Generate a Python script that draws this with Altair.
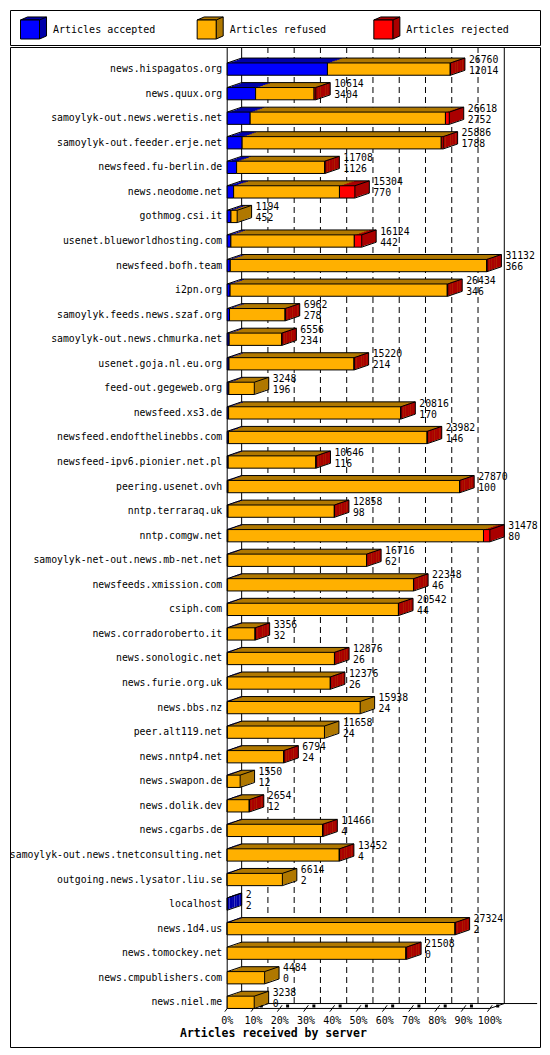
import altair as alt
import pandas as pd

hosts = [
    "news.hispagatos.org", "news.quux.org", "samoylyk-out.news.weretis.net",
    "samoylyk-out.feeder.erje.net", "newsfeed.fu-berlin.de", "news.neodome.net",
    "gothmog.csi.it", "usenet.blueworldhosting.com", "newsfeed.bofh.team",
    "i2pn.org", "samoylyk.feeds.news.szaf.org", "samoylyk-out.news.chmurka.net",
    "usenet.goja.nl.eu.org", "feed-out.gegeweb.org", "newsfeed.xs3.de",
    "newsfeed.endofthelinebbs.com", "newsfeed-ipv6.pionier.net.pl",
    "peering.usenet.ovh", "nntp.terraraq.uk", "nntp.comgw.net",
    "samoylyk-net-out.news.mb-net.net", "newsfeeds.xmission.com", "csiph.com",
    "news.corradoroberto.it", "news.sonologic.net", "news.furie.org.uk",
    "news.bbs.nz", "peer.alt119.net", "news.nntp4.net", "news.swapon.de",
    "news.dolik.dev", "news.cgarbs.de", "samoylyk-out.news.tnetconsulting.net",
    "outgoing.news.lysator.liu.se", "localhost", "news.1d4.us",
    "news.tomockey.net", "news.cmpublishers.com", "news.niel.me",
]
total = [
    26760, 10614, 26618, 25886, 11708, 15304, 1194, 16124, 31132, 26434,
    6962, 6556, 15220, 3248, 20816, 23982, 10646, 27870, 12858, 31478,
    16716, 22348, 20542, 3356, 12876, 12376, 15938, 11658, 6794, 1550,
    2654, 11466, 13452, 6614, 2, 27324, 21508, 4484, 3238,
]
accepted = [
    12014, 3404, 2752, 1788, 1126, 770, 452, 442, 366, 346,
    278, 234, 214, 196, 170, 146, 116, 100, 98, 80,
    62, 46, 44, 32, 26, 26, 24, 24, 24, 12,
    12, 4, 4, 2, 2, 2, 0, 0, 0,
]
rejected = [
    30, 200, 460, 230, 20, 1850, 0, 890, 30, 60,
    20, 20, 20, 0, 30, 20, 20, 20, 20, 760,
    20, 20, 20, 10, 20, 20, 0, 0, 20, 0,
    10, 20, 20, 0, 0, 20, 100, 0, 0,
]

series = ["Articles accepted", "Articles refused", "Articles rejected"]
front_colors = ["#0000ff", "#ffb000", "#ff0000"]
dark_colors = ["#0000aa", "#b07800", "#aa0000"]
tick_values = [0, 10, 20, 30, 40, 50, 60, 70, 80, 90, 100]
tick_labels = ["0%", "10%", "20%", "30%", "40%", "50%", "60%", "70%", "80%", "90%", "100%"]

FONT = "DejaVu Sans Mono"
W, H = 530, 1000
X_DOMAIN = [-82.7, 119.1]   # percent of the busiest server
Y_DOMAIN = [-0.9, 39.82]    # row index
DX = 5.5     # bar depth, percent
DY = 0.2     # bar depth, rows
HALF = 0.25  # half height of the bar front, rows
STEPS = 6
FLOOR_FRONT = len(hosts) - 1 + HALF
FLOOR_BACK = FLOOR_FRONT - DY

xs = alt.Scale(domain=X_DOMAIN, nice=False, zero=False)
ys = alt.Scale(domain=Y_DOMAIN, nice=False, zero=False, reverse=True)


def X(f):
    return alt.X(f, scale=xs, axis=None)


def Y(f):
    return alt.Y(f, scale=ys, axis=None)


# --- build the 3d bars ---
peak = max(total)
fronts, faces, edges, labels = [], [], [], []
for i, host in enumerate(hosts):
    counts = [accepted[i], total[i] - accepted[i] - rejected[i], rejected[i]]
    top, bot = i - HALF, i + HALF
    start = 0.0
    for s, n in enumerate(counts):
        if n == 0:
            continue
        end = start + n / peak * 100
        fronts.append(dict(x=start, x2=end, y=top, y2=bot, fill=front_colors[s]))
        for k in range(1, STEPS + 1):
            f = k / STEPS
            faces.append(dict(x=min(start + DX * f, end + DX * (k - 1) / STEPS),
                              x2=end + DX * f, y=top - DY * f, y2=bot - DY * f,
                              fill=dark_colors[s]))
        start = end
    end = start
    edges += [
        dict(x=0, y=top, x2=DX, y2=top - DY),
        dict(x=DX, y=top - DY, x2=end + DX, y2=top - DY),
        dict(x=end + DX, y=top - DY, x2=end + DX, y2=bot - DY),
        dict(x=end, y=top, x2=end + DX, y2=top - DY),
        dict(x=end, y=bot, x2=end + DX, y2=bot - DY),
    ]
    labels.append(dict(host=host, y=i, x0=0, xe=end + DX,
                       total=str(total[i]), acc=str(accepted[i])))

fronts, faces, edges, labels = map(pd.DataFrame, [fronts, faces, edges, labels])

# --- walls, floor and ticks ---
ticks = pd.DataFrame({"t": tick_values, "label": tick_labels})
walls = pd.DataFrame([
    dict(x=0, x2=0, y=Y_DOMAIN[0], y2=FLOOR_FRONT),
    dict(x=DX, x2=DX, y=Y_DOMAIN[0], y2=FLOOR_BACK),
    dict(x=100 + DX, x2=100 + DX, y=Y_DOMAIN[0], y2=FLOOR_BACK),
    dict(x=0, x2=100, y=FLOOR_FRONT, y2=FLOOR_FRONT),
    dict(x=100, x2=100 + DX, y=FLOOR_FRONT, y2=FLOOR_BACK),
    dict(x=DX, x2=118, y=FLOOR_BACK, y2=FLOOR_BACK),
])

grid = alt.Chart(ticks).transform_filter(
    "datum.t > 0 && datum.t < 100"
).transform_calculate(
    gx=f"datum.t + {DX}", gy=str(Y_DOMAIN[0]), gy2=str(FLOOR_BACK)
).mark_rule(color="black", strokeWidth=1, strokeDash=[6, 4]).encode(
    x=X("gx:Q"), y=Y("gy:Q"), y2="gy2:Q"
)

wall_lines = alt.Chart(walls).mark_rule(color="black", strokeWidth=1).encode(
    x=X("x:Q"), x2="x2:Q", y=Y("y:Q"), y2="y2:Q"
)

tick_marks = alt.Chart(ticks).transform_calculate(
    a="datum.t - 0.9", b="datum.t + 0.9",
    ya=str(FLOOR_FRONT + 0.13), yb=str(FLOOR_FRONT - 0.13)
).mark_rule(color="black", strokeWidth=1).encode(
    x=X("a:Q"), x2="b:Q", y=Y("ya:Q"), y2="yb:Q"
)

tick_dots = alt.Chart(ticks).transform_calculate(
    a="datum.t + 3", ya=str(FLOOR_FRONT - 0.1)
).mark_square(color="black", size=9, opacity=1).encode(
    x=X("a:Q"), y=Y("ya:Q")
)

tick_text = alt.Chart(ticks).transform_calculate(
    ya=str(FLOOR_FRONT + 0.5)
).mark_text(font=FONT, fontSize=10, baseline="middle").encode(
    x=X("t:Q"), y=Y("ya:Q"), text="label:N"
)

title = alt.Chart(pd.DataFrame({"x": [17.6], "y": [FLOOR_FRONT + 1.03]})).mark_text(
    font=FONT, fontSize=11.5, fontWeight="bold", baseline="middle",
    text="Articles received by server"
).encode(x=X("x:Q"), y=Y("y:Q"))

top_faces = alt.Chart(faces).mark_rect(strokeWidth=0).encode(
    x=X("x:Q"), x2="x2:Q", y=Y("y:Q"), y2="y2:Q",
    fill=alt.Fill("fill:N", scale=None)
)

front_faces = alt.Chart(fronts).mark_rect(stroke="black", strokeWidth=1).encode(
    x=X("x:Q"), x2="x2:Q", y=Y("y:Q"), y2="y2:Q",
    fill=alt.Fill("fill:N", scale=None)
)

outline = alt.Chart(edges).mark_rule(color="black", strokeWidth=1).encode(
    x=X("x:Q"), x2="x2:Q", y=Y("y:Q"), y2="y2:Q"
)

host_text = alt.Chart(labels).mark_text(
    font=FONT, fontSize=9.8, align="right", baseline="middle", dx=-5
).encode(x=X("x0:Q"), y=Y("y:Q"), text="host:N")

total_text = alt.Chart(labels).mark_text(
    font=FONT, fontSize=9.8, align="left", baseline="middle", dx=4, dy=-9.4
).encode(x=X("xe:Q"), y=Y("y:Q"), text="total:N")

acc_text = alt.Chart(labels).mark_text(
    font=FONT, fontSize=9.8, align="left", baseline="middle", dx=4, dy=1.6
).encode(x=X("xe:Q"), y=Y("y:Q"), text="acc:N")

main = alt.layer(
    grid, wall_lines, tick_marks, tick_dots, top_faces, front_faces, outline,
    host_text, total_text, acc_text, tick_text, title
).properties(width=W, height=H)

# --- legend box ---
legend_df = pd.DataFrame({"series": series, "front": front_colors, "dark": dark_colors})
lx = alt.X("series:N", axis=None, bandPosition=0,
           scale=alt.Scale(type="band", domain=series, paddingInner=0, paddingOuter=0))
CUBE_BACK = "M-1,-1L-0.26,-1.32L1.74,-1.32L1.74,0.68L1,1L1,-1ZM1,-1L1.74,-1.32"

legend_back = alt.Chart(legend_df).mark_point(
    shape=CUBE_BACK, filled=True, size=361, stroke="black", strokeWidth=1,
    opacity=1, xOffset=20, yOffset=2
).encode(x=lx, fill=alt.Fill("dark:N", scale=None))

legend_front = alt.Chart(legend_df).mark_point(
    shape="square", filled=True, size=361, stroke="black", strokeWidth=1,
    opacity=1, xOffset=20, yOffset=2
).encode(x=lx, fill=alt.Fill("front:N", scale=None))

legend_text = alt.Chart(legend_df).mark_text(
    font=FONT, fontSize=10, align="left", baseline="middle", dx=43, dy=2
).encode(x=lx, text="series:N")

legend = alt.layer(legend_back, legend_front, legend_text).properties(width=W, height=35)

chart = alt.vconcat(legend, main, spacing=0).properties(
    padding=1, background="white"
).configure_view(stroke="black", strokeWidth=1)

chart.save("out.html", embed_options={"renderer": "svg", "actions": False})
